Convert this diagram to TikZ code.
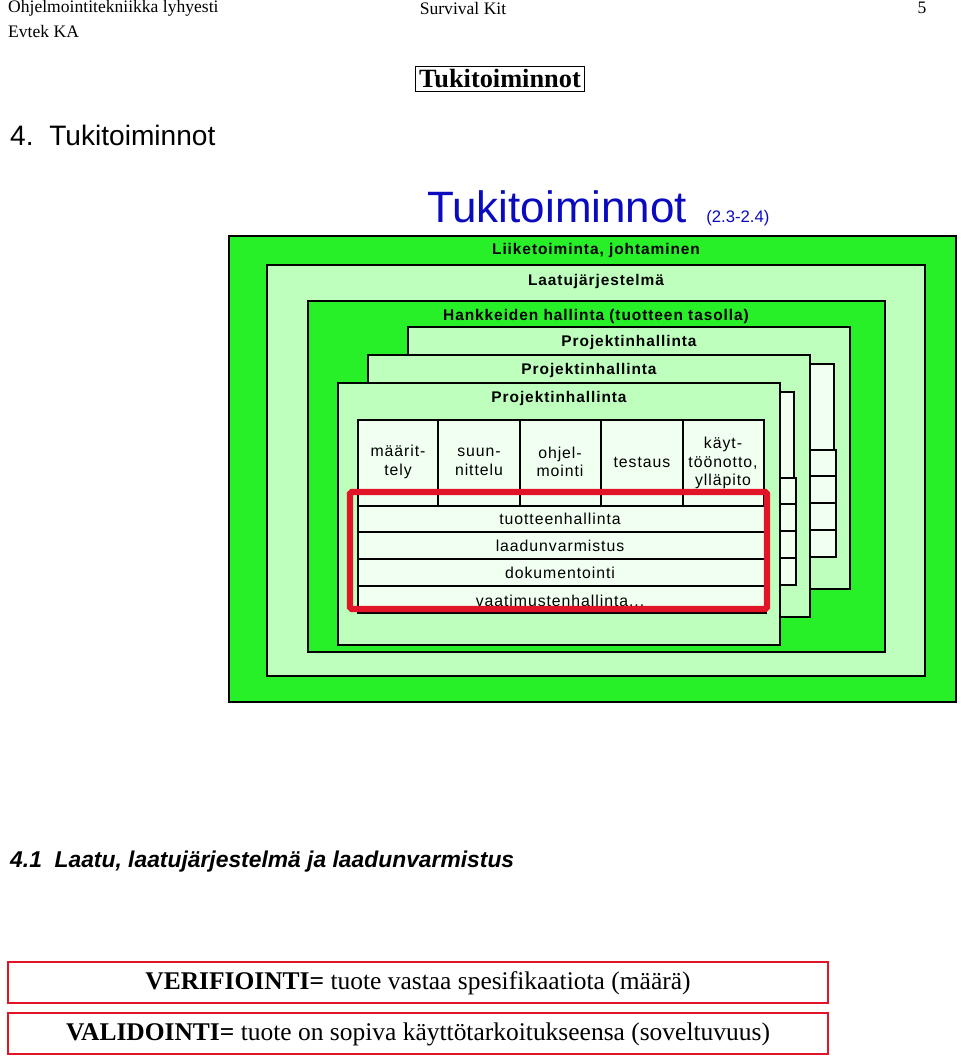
\documentclass[tikz,border=0pt]{standalone}
\usepackage{fontspec}
\setmainfont{Liberation Serif}
\setsansfont{Liberation Sans}
\newfontfamily\wsans[LetterSpace=6]{Liberation Sans}
\usetikzlibrary{positioning}
\definecolor{brgreen}{RGB}{40,240,40}
\definecolor{ltgreen}{RGB}{190,255,190}
\definecolor{pale}{RGB}{240,255,240}
\definecolor{mred}{RGB}{225,20,40}
\definecolor{tblue}{RGB}{10,10,190}

\newcommand{\projbox}[3]{% offset x, offset y, name
  \begin{scope}[shift={(#1,#2)}]
    \draw[fill=ltgreen, line width=1pt] (338,383) rectangle (780,645);
    \node[lbl] (#3) at (559,398) {Projektinhallinta};
    \draw[fill=pale, line width=1pt] (358,420) rectangle (764,506);
    \foreach \cx in {438,520,601,683} \draw[line width=1pt] (\cx,420) -- (\cx,506);
    \foreach \ry in {506,532,559,586} \draw[fill=pale, line width=1pt] (358,\ry) rectangle (766,\ry+27);
  \end{scope}}

\begin{document}
\begin{tikzpicture}[x=0.02cm, y=-0.02cm,
  lbl/.style={font=\wsans\bfseries\fontsize{8.8}{10}\selectfont},
  phase/.style={font=\wsans\fontsize{9}{10.5}\selectfont, align=center},
  row/.style={font=\wsans\fontsize{9}{10}\selectfont},
  hdr/.style={font=\fontsize{10}{11}\selectfont, anchor=west},
  defbox/.style={draw=mred, line width=1pt, font=\fontsize{14.5}{16}\selectfont}]
  \useasboundingbox (0,0) rectangle (960,1058);

  % header
  \node[hdr] (course) at (2,8) {Ohjelmointitekniikka lyhyesti};
  \node[font=\fontsize{10}{11}\selectfont] (kit) at (463,8) {Survival Kit};
  \node[font=\fontsize{10}{11}\selectfont] (page) at (922,8) {5};
  \node[hdr] (school) at (2,31) {Evtek KA};
  \node[draw, font=\bfseries\fontsize{15}{17}\selectfont, inner sep=2pt] (frame) at (500,79) {Tukitoiminnot};
  \node[font=\sffamily\fontsize{16}{18}\selectfont, anchor=west] (chap) at (4,135) {4.\ \ Tukitoiminnot};

  % slide title
  \node[font=\sffamily\fontsize{25}{28}\selectfont, text=tblue, anchor=base west, inner sep=0] (title) at (427,222) {Tukitoiminnot};
  \node[font=\sffamily\fontsize{9.5}{10}\selectfont, text=tblue, anchor=base west, inner sep=0] (sect) at (706,222) {(2.3-2.4)};

  % nested layers
  \draw[fill=brgreen, line width=1pt] (229,236) rectangle (956,702);
  \node[lbl] (biz) at (596,250) {Liiketoiminta, johtaminen};
  \draw[fill=ltgreen, line width=1pt] (267,265) rectangle (925,676);
  \node[lbl] (qs) at (596,281) {Laatujärjestelmä};
  \draw[fill=brgreen, line width=1pt] (308,301) rectangle (885,652);
  \node[lbl] (proj) at (596,316) {Hankkeiden hallinta (tuotteen tasolla)};

  \projbox{70}{-56}{pmback}
  \projbox{30}{-28}{pmmid}
  \projbox{0}{0}{pmfront}

  % phases
  \node[phase] (mar) at (398,462) {määrit-\\tely};
  \node[phase] (suu) at (479,462) {suun-\\nittelu};
  \node[phase] (ohj) at (560,462) {ohjel-\\mointi};
  \node[phase] (tes) at (642,462) {testaus};
  \begin{scope}
    \clip (683,420) rectangle (764,506);
    \node[phase] (kay) at (723,463) {käyt-\\töönotto,\\ylläpito};
  \end{scope}

  % support rows
  \node[row] (tuo) at (560,519) {tuotteenhallinta};
  \node[row] (laa) at (560,546) {laadunvarmistus};
  \node[row] (dok) at (560,573) {dokumentointi};
  \begin{scope}
    \clip (358,586) rectangle (766,609);
    \node[row] (vaa) at (560,601) {vaatimustenhallinta...};
  \end{scope}
  \draw[mred, line width=3.5pt, rounded corners=1pt] (350,492) rectangle (767,609);

  % section 4.1
  \node[font=\sffamily\bfseries\itshape\fontsize{13}{15}\selectfont, anchor=west] (sec) at (4,862) {4.1\ \ Laatu, laatujärjestelmä ja laadunvarmistus};

  \draw[defbox] (8,962) rectangle (828,1003);
  \node[font=\fontsize{14.5}{16}\selectfont] (ver) at (418,983) {\textbf{VERIFIOINTI=} tuote vastaa spesifikaatiota (määrä)};
  \draw[defbox] (8,1013) rectangle (828,1054);
  \node[font=\fontsize{14.5}{16}\selectfont] (val) at (418,1034) {\textbf{VALIDOINTI=} tuote on sopiva käyttötarkoitukseensa (soveltuvuus)};
\end{tikzpicture}
\end{document}
